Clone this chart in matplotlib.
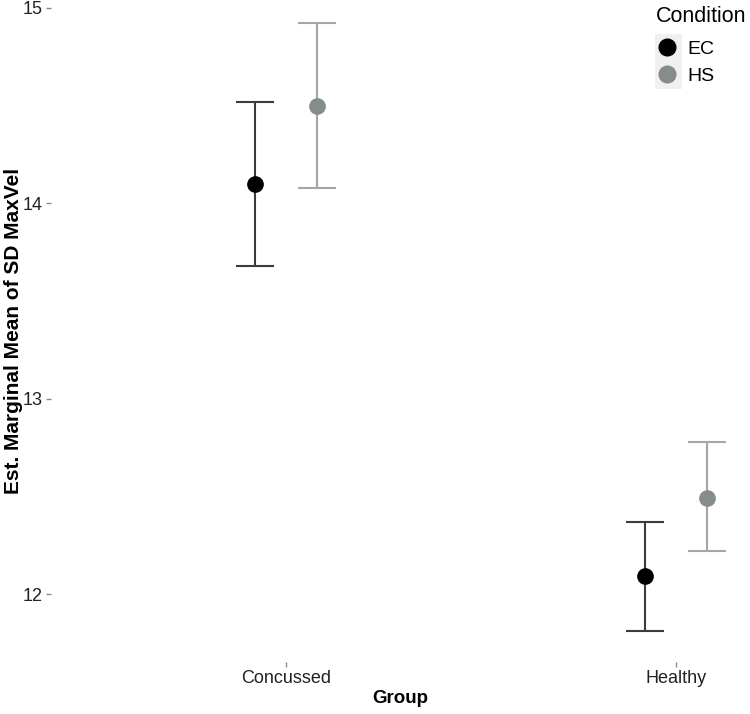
import matplotlib
matplotlib.use("Agg")
import matplotlib.pyplot as plt
from matplotlib.lines import Line2D
from matplotlib.patches import Rectangle

plt.rcParams['font.family'] = ['Liberation Sans', 'DejaVu Sans']

groups = ['Concussed', 'Healthy']
conditions = ['EC', 'HS']
means = {'EC': [14.10, 12.09], 'HS': [14.50, 12.49]}
lower = {'EC': [13.68, 11.81], 'HS': [14.08, 12.22]}
upper = {'EC': [14.52, 12.37], 'HS': [14.92, 12.78]}

point_col = {'EC': '#000000', 'HS': '#858d8b'}
bar_col = {'EC': '#3c3c3c', 'HS': '#a6a6a6'}
dodge = {'EC': -0.08, 'HS': 0.08}

fig = plt.figure(figsize=(7.5, 7.14), dpi=100)
ax = fig.add_axes([51 / 750, 52 / 714, 1 - 51 / 750, 1 - 52 / 714])

for cond in conditions:
    xs = [i + dodge[cond] for i in range(len(groups))]
    m = means[cond]
    yerr = [[a - b for a, b in zip(m, lower[cond])],
            [b - a for a, b in zip(m, upper[cond])]]
    ax.errorbar(xs, m, yerr=yerr, fmt='none', ecolor=bar_col[cond],
                elinewidth=1.5, capsize=13.5, capthick=1.5, zorder=2)
    ax.plot(xs, m, 'o', color=point_col[cond], markersize=11, zorder=3, label=cond)

ax.set_xlim(-0.603, 1.19)
ax.set_ylim(11.652, 15.04)
ax.set_xticks(range(len(groups)))
ax.set_xticklabels(groups)
ax.set_yticks([12, 13, 14, 15])
for s in ax.spines.values():
    s.set_visible(False)
ax.tick_params(axis='both', length=3.5, width=1, color='#8a8a8a', labelsize=13,
               labelcolor='#222222', pad=2.5)
ax.set_xlabel('Group', fontsize=13.5, fontweight='bold', labelpad=2)
ax.set_ylabel('Est. Marginal Mean of SD MaxVel', fontsize=15, fontweight='bold')
ax.yaxis.set_label_coords(-28 / 699, 0.5)

# legend key background
fig.patches.append(Rectangle((655 / 750, 1 - 89 / 714), 27 / 750, 55 / 714,
                             transform=fig.transFigure, facecolor='#f0f0f0',
                             edgecolor='none', zorder=0))
handles = [Line2D([], [], marker='o', linestyle='none', color=point_col[c],
                  markersize=12) for c in conditions]
leg = fig.legend(handles, conditions, title='Condition', loc='upper left',
                 bbox_to_anchor=(642 / 750, 1 + 8 / 714), frameon=False, fontsize=14,
                 title_fontsize=15.5, handlelength=1.2, handleheight=1.0,
                 handletextpad=0.45, labelspacing=0.38, borderpad=0.2)
leg._legend_box.align = 'left'
leg._legend_box.sep = 9

fig.savefig('out.png', dpi=100)
